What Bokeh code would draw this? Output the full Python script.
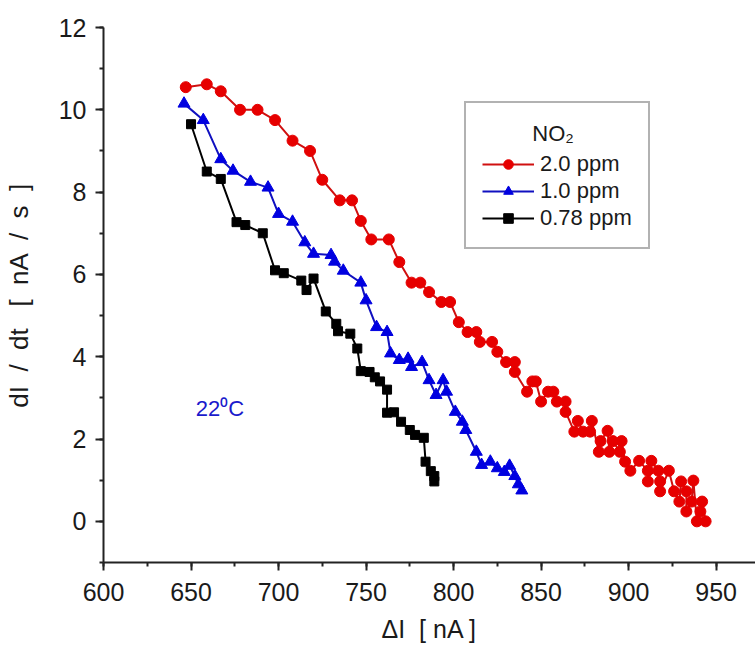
from bokeh.plotting import figure
from bokeh.models import Range1d, SingleIntervalTicker, Legend, LegendItem, Label
from bokeh.embed import file_html
from bokeh.resources import INLINE

# NO2 2.0 ppm
red_x = [647, 659, 667, 678, 688, 698, 708, 718, 725, 735, 742, 747, 753, 763, 769, 776, 781, 786, 793, 798,
         803, 808, 813, 815, 822, 825, 830, 835, 835, 842, 845, 847, 850, 854, 857, 859, 864, 864, 869, 871,
         874, 878, 879, 883, 884, 888, 889, 891, 895, 896, 898, 901, 906, 911, 911, 913, 917, 918, 918, 923,
         926, 929, 930, 933, 933, 936, 937, 939, 941, 942, 944]
red_y = [10.55, 10.62, 10.45, 10.0, 10.0, 9.75, 9.25, 9.0, 8.3, 7.8, 7.8, 7.3, 6.85, 6.85, 6.3, 5.8, 5.8, 5.57, 5.33, 5.33,
         4.84, 4.6, 4.6, 4.36, 4.36, 4.12, 3.87, 3.87, 3.63, 3.15, 3.4, 3.4, 2.91, 3.15, 3.15, 2.91, 2.91, 2.66, 2.18, 2.44,
         2.18, 2.18, 2.44, 1.69, 1.95, 2.2, 1.69, 1.95, 1.69, 1.95, 1.45, 1.23, 1.47, 1.23, 0.97, 1.47, 1.23, 0.97, 0.73, 1.23,
         0.73, 0.48, 0.97, 0.73, 0.24, 0.48, 0.99, 0.0, 0.24, 0.48, 0.0]

# NO2 1.0 ppm
blue_x = [646, 657, 667, 674, 684, 694, 700, 708, 715, 720, 730, 732, 737, 747, 750, 756, 762, 764, 769, 774,
          776, 782, 786, 790, 794, 796, 801, 805, 807, 813, 816, 821, 825, 829, 832, 835, 837, 839]
blue_y = [10.15, 9.75, 8.8, 8.52, 8.25, 8.11, 7.47, 7.28, 6.78, 6.5, 6.47, 6.31, 6.09, 5.8, 5.37, 4.72, 4.6, 4.08, 3.92, 3.95,
          3.75, 3.87, 3.43, 3.07, 3.43, 3.15, 2.66, 2.42, 2.22, 1.69, 1.37, 1.45, 1.29, 1.2, 1.35, 1.1, 0.9, 0.75]

# NO2 0.78 ppm
black_x = [650, 659, 667, 676, 681, 691, 698, 703, 713, 716, 720, 727, 733, 734, 741, 745, 747, 752, 755, 758,
           762, 762, 766, 770, 775, 778, 783, 784, 787, 789, 789]
black_y = [9.65, 8.5, 8.32, 7.27, 7.2, 7.0, 6.1, 6.03, 5.85, 5.62, 5.9, 5.1, 4.8, 4.62, 4.56, 4.2, 3.65, 3.63, 3.5, 3.4,
           3.2, 2.64, 2.65, 2.42, 2.22, 2.1, 2.03, 1.45, 1.22, 1.1, 0.97]

series_labels = ["2.0 ppm", "1.0 ppm", "0.78 ppm"]
x_title = "ΔI \u00a0[ nA ]"
y_title = "dI \u00a0/ \u00a0dt \u00a0\u00a0[ \u00a0nA \u00a0/ \u00a0s \u00a0]"

FONT = "Liberation Sans"
X0, X1, Y0, Y1 = 600, 972.5, -1, 12

p = figure(width=755, height=651, output_backend="svg", toolbar_location=None,
           x_range=Range1d(X0, X1), y_range=Range1d(Y0, Y1),
           min_border_left=103, min_border_right=0, min_border_top=27, min_border_bottom=89)
p.outline_line_color = None
p.xgrid.grid_line_color = None
p.ygrid.grid_line_color = None

p.xaxis.ticker = SingleIntervalTicker(interval=50, num_minor_ticks=2)
p.yaxis.ticker = SingleIntervalTicker(interval=2, num_minor_ticks=2)
for ax in (p.xaxis[0], p.yaxis[0]):
    ax.axis_line_width = 2
    ax.axis_line_color = "#222222"
    ax.major_tick_line_width = 2
    ax.minor_tick_line_width = 2
    ax.major_tick_line_color = "#222222"
    ax.minor_tick_line_color = "#222222"
    ax.major_tick_out = 8
    ax.major_tick_in = 0
    ax.minor_tick_out = 4
    ax.minor_tick_in = 0
    ax.major_label_text_font = FONT
    ax.major_label_text_font_size = "25px"
    ax.major_label_text_color = "#1a1a1a"
    ax.axis_label_text_font = FONT
    ax.axis_label_text_font_style = "normal"
    ax.axis_label_text_color = "#1a1a1a"
p.xaxis.major_label_standoff = 12
p.yaxis.major_label_standoff = 9

p.xaxis.axis_label = x_title
p.xaxis.axis_label_text_font_size = "25px"
p.xaxis.axis_label_standoff = 11
p.yaxis.axis_label = y_title
p.yaxis.axis_label_text_font_size = "26px"
p.yaxis.axis_label_standoff = 22

r_line = p.line(red_x, red_y, line_color="#d01010", line_width=2)
r_pts = p.scatter(red_x, red_y, marker="circle", size=11, fill_color="#e60000", line_color="#e60000")
b_line = p.line(blue_x, blue_y, line_color="#1010c0", line_width=2)
b_pts = p.scatter(blue_x, blue_y, marker="triangle", size=12, fill_color="#0000e0", line_color="#0000e0")
k_line = p.line(black_x, black_y, line_color="#000000", line_width=2)
k_pts = p.scatter(black_x, black_y, marker="square", size=9, fill_color="#000000", line_color="#000000")

legend = Legend(items=[
    LegendItem(label=series_labels[0], renderers=[r_line, r_pts]),
    LegendItem(label=series_labels[1], renderers=[b_line, b_pts]),
    LegendItem(label=series_labels[2], renderers=[k_line, k_pts]),
], location=(361, 313))
legend.title = " "
legend.title_text_font = FONT
legend.title_text_font_size = "22px"
legend.title_standoff = 6
legend.label_text_font = FONT
legend.label_text_font_size = "22px"
legend.label_text_color = "#1a1a1a"
legend.glyph_width = 52
legend.glyph_height = 24
legend.label_height = 24
legend.label_width = 88
legend.label_standoff = 6
legend.spacing = 1
legend.padding = 16
legend.margin = 0
legend.border_line_color = "#666666"
legend.border_line_width = 2
legend.background_fill_alpha = 0.0
p.add_layout(legend, "center")

p.add_layout(Label(x=845, y=9.43, text="NO₂", text_font=FONT, text_font_size="22px",
                   text_color="#1a1a1a", text_baseline="alphabetic", level="overlay"))
p.add_layout(Label(x=652.7, y=2.74, text="22⁰C", text_font=FONT, text_font_size="22px",
                   text_color="#1a1acc", text_baseline="alphabetic"))

open("out.html", "w").write(file_html(p, INLINE))
